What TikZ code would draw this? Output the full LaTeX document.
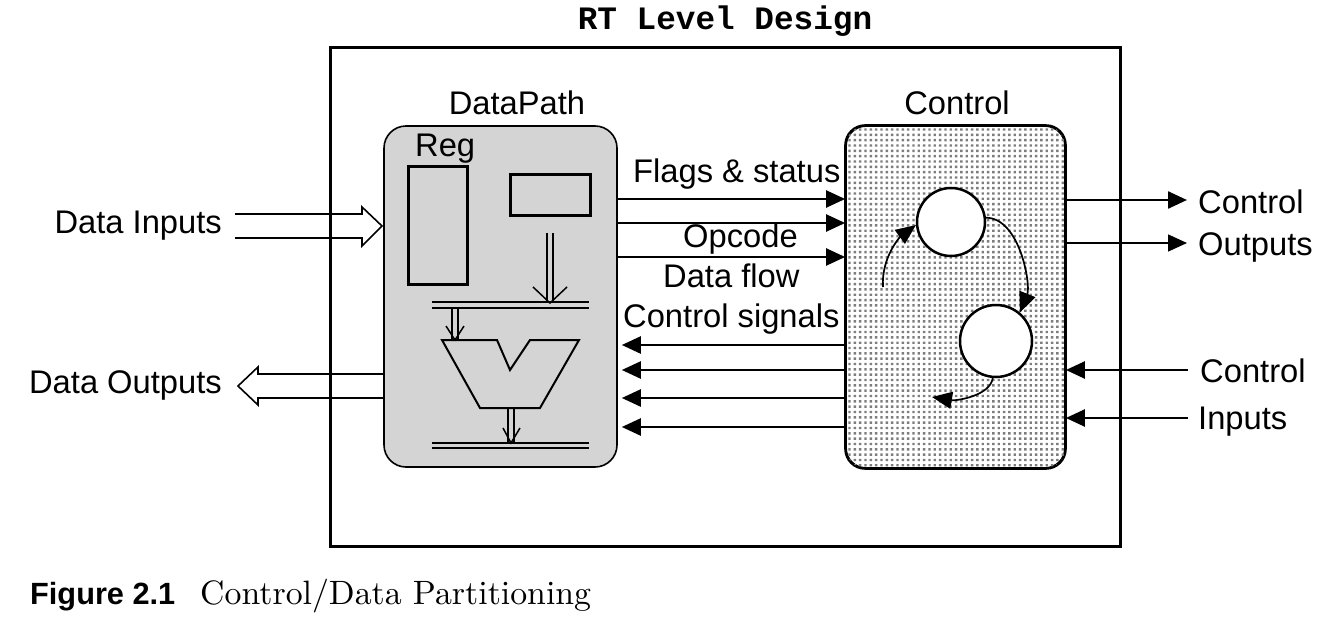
\documentclass[tikz,border=0pt]{standalone}
\usepackage{fontspec}
\newfontfamily\arialf{Liberation Sans}
\newfontfamily\courf{Liberation Mono}
\usetikzlibrary{arrows.meta}
\definecolor{dpgray}{RGB}{212,212,212}
\definecolor{dotc}{RGB}{125,125,125}
\begin{document}
\begin{tikzpicture}[x=1pt,y=-1pt,
  lbl/.style={font=\arialf\fontsize{32.7}{39}\selectfont, inner sep=0pt},
  sig/.style={line width=2.4pt, -{Triangle[length=19pt,width=17pt]}},
  sigthin/.style={line width=1.5pt, -{Triangle[length=19pt,width=17pt]}},
  carrow/.style={line width=1.7pt, -{Triangle[length=20pt,width=17pt]}},
  regbox/.style={draw, line width=3pt, inner sep=0pt},
  bus/.style={line width=1.5pt},
  hollow/.style={line width=1.6pt, line join=miter},
  fsm/.style={circle, draw, fill=white, line width=2.5pt, inner sep=0pt}
]
\useasboundingbox (0,0) rectangle (1323,629);

% title
\node[font=\courf\bfseries\fontsize{32.7}{39}\selectfont, inner sep=0pt, anchor=base] (title) at (725,29) {RT Level Design};

% outer box
\node[draw, line width=3pt, minimum width=790pt, minimum height=499pt, inner sep=0pt] (outer) at (725,296.5) {};

% datapath box
\node[draw, line width=1.6pt, fill=dpgray, rounded corners=22pt, minimum width=233pt, minimum height=341pt, inner sep=0pt] (dp) at (500.5,296.5) {};
\node[lbl, anchor=base] (dplbl) at (517,114) {DataPath};
\node[lbl, anchor=base west] (reglbl) at (415,156) {Reg};

% registers
\node[regbox, minimum width=59pt, minimum height=118pt] (reg1) at (437.5,225) {};
\node[regbox, minimum width=80pt, minimum height=41pt] (reg2) at (550,194.5) {};

% reg2 -> bus1
\draw[bus] (547,233) -- (547,302) (553,233) -- (553,302);
\draw[bus] (533,287) -- (550,303) -- (567,287);
% bus1
\draw[bus] (432,302) -- (589,302) (432,308) -- (589,308);
% bus1 -> alu
\draw[bus] (452,308) -- (452,340) (458,308) -- (458,340);
\draw[bus] (446,326) -- (455,340) -- (464,326);
% ALU
\draw[line width=2pt, line join=miter] (442,340) -- (497,340) -- (510,370) -- (530,340) -- (579,340) -- (540,408) -- (480,408) -- cycle;
% alu -> bus2
\draw[bus] (508,408) -- (508,443) (514,408) -- (514,443);
\draw[bus] (503,428) -- (511,443) -- (520,428);
% bus2
\draw[bus] (432,443) -- (589,443) (432,448) -- (589,448);

% control box with dots
\node[draw, line width=1.8pt, fill=white, rounded corners=20pt, minimum width=219pt, minimum height=342pt, inner sep=0pt] (ctl) at (955.5,297) {};
\begin{scope}
\clip[rounded corners=20pt] (ctl.north west) rectangle (ctl.south east);
\fill[dotc] \foreach \i in {0,...,41} { \foreach \j in {0,...,64} { (848.3+\i*5.33, 128.3+\j*5.33) rectangle ++(2.4,2.4) } };
\end{scope}
\draw[line width=1.8pt, rounded corners=20pt] (ctl.north west) rectangle (ctl.south east);
\node[lbl, anchor=base] (ctllbl) at (957,114) {Control};

% FSM circles
\node[fsm, minimum size=68pt] (c1) at (951,222) {};
\node[fsm, minimum size=72pt] (c2) at (996,341) {};
\coordinate (s1) at (883,287);
\coordinate (e3) at (932,397);
\draw[carrow] (s1) .. controls (881,257) and (901,236) .. (c1.185);
\draw[carrow] (c1.7) .. controls (1020,218) and (1031,285) .. (c2.50);
\draw[carrow] (c2.265) .. controls (990,396) and (956,401) .. (e3);

% datapath -> control
\foreach \y in {199,223,257} { \draw[sig] (dp.east |- 0,\y) -- (ctl.west |- 0,\y); }
\node[lbl, anchor=base west] (flags) at (633,182) {Flags \& status};
\node[lbl, anchor=base west] (opc) at (683,247) {Opcode};
\node[lbl, anchor=base west] (dflow) at (663,287) {Data flow};
\node[lbl, anchor=base west] (csig) at (623,327) {Control signals};
% control -> datapath
\foreach \y in {345,370,398,427} { \draw[sig, shorten >=4pt] (ctl.west |- 0,\y) -- (dp.east |- 0,\y); }

% data inputs / outputs
\coordinate (di) at (235,226);
\coordinate (do) at (238,386);
\draw[hollow] (235,214) -- (362,214) -- (362,207) -- (382,226) -- (362,246) -- (362,238) -- (235,238);
\node[lbl, anchor=base east] (dilbl) at (222,233) {Data Inputs};
\draw[hollow] (dp.west |- 0,374) -- (258,374) -- (258,367) -- (do) -- (258,405) -- (258,398) -- (dp.west |- 0,398);
\node[lbl, anchor=base east] (dolbl) at (222,393) {Data Outputs};

% control outputs / inputs
\coordinate (co1) at (1187,200);
\coordinate (co2) at (1187,243);
\coordinate (ci1) at (1188,370);
\coordinate (ci2) at (1188,418);
\draw[sig] (ctl.east |- co1) -- (co1);
\draw[sigthin] (ctl.east |- co2) -- (co2);
\draw[sig] (ci1) -- (ctl.east |- ci1);
\draw[sig] (ci2) -- (ctl.east |- ci2);
\node[lbl, anchor=base west] (colbl1) at (1198,213) {Control};
\node[lbl, anchor=base west] (colbl2) at (1198,255) {Outputs};
\node[lbl, anchor=base west] (cilbl1) at (1200,382) {Control};
\node[lbl, anchor=base west] (cilbl2) at (1198,429) {Inputs};

% caption
\node[font=\arialf\bfseries\fontsize{30.7}{37}\selectfont, inner sep=0pt, anchor=base west] (figno) at (30,604) {Figure 2.1};
\node[inner sep=0pt, anchor=base west] (figcap) at (200,604) {\scalebox{3.38}{\fontsize{10}{12}\selectfont Control/Data Partitioning}};
\end{tikzpicture}
\end{document}
